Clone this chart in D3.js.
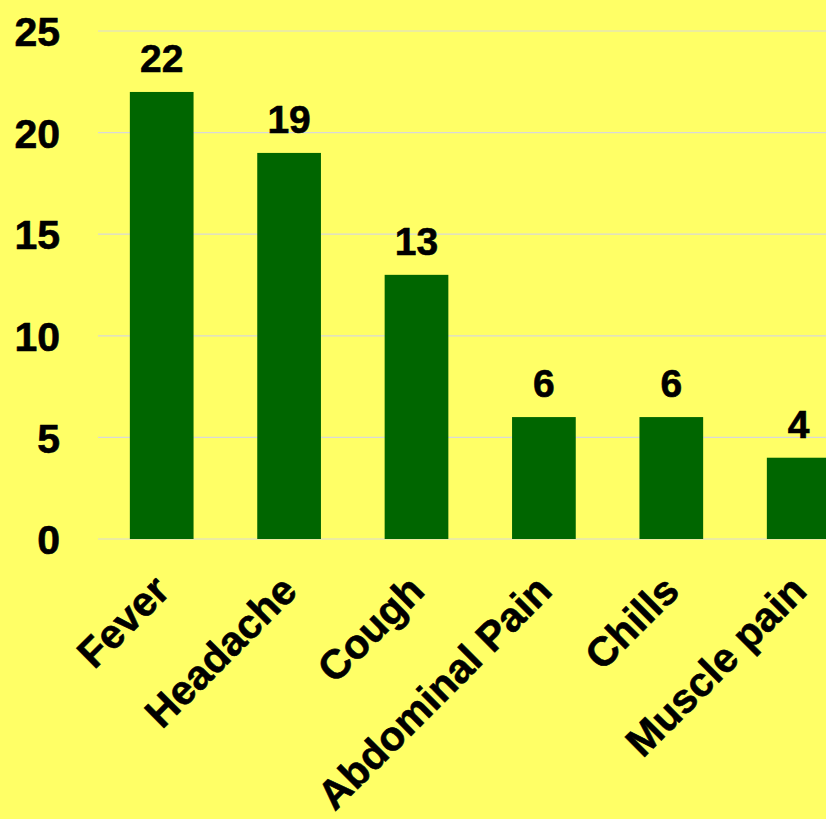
<!DOCTYPE html>
<html>
<head>
<meta charset="utf-8">
<script src="https://cdn.jsdelivr.net/npm/d3@7"></script>
<style>
  html, body { margin: 0; padding: 0; background: #FFFF66; }
  svg { display: block; }
  text { font-family: "Liberation Sans", Arial, sans-serif; font-weight: bold; fill: #000; }
</style>
</head>
<body>
<script>
const categories = ["Fever", "Headache", "Cough", "Abdominal Pain", "Chills", "Muscle pain"];
const values = [22, 19, 13, 6, 6, 4];
const yTicks = [0, 5, 10, 15, 20, 25];

const W = 826, H = 819;
const svg = d3.select("body").append("svg").attr("width", W).attr("height", H);
svg.append("rect").attr("width", W).attr("height", H).attr("fill", "#FFFF66");

const x = d3.scaleBand().domain(categories).range([98, 862.4]).paddingInner(0.5).paddingOuter(0.25);
const y = d3.scaleLinear().domain([0, 25]).range([539, 31]);

// gridlines
svg.append("g").selectAll("line").data(yTicks).join("line")
  .attr("x1", 98).attr("x2", W)
  .attr("y1", d => y(d)).attr("y2", d => y(d))
  .attr("stroke", "#d9d9d9").attr("stroke-width", 1.2);

// y axis labels
const yAxis = d3.axisLeft(y).tickValues(yTicks).tickSize(0).tickPadding(0);
const gy = svg.append("g").attr("transform", "translate(60,0)").call(yAxis);
gy.select(".domain").remove();
gy.selectAll("text").attr("font-size", 41).attr("font-family", "Liberation Sans, Arial, sans-serif")
  .attr("font-weight", "bold").attr("fill", "#000").attr("dy", "0.36em")
  .attr("stroke", "#000").attr("stroke-width", 0.6);

// bars
svg.append("g").selectAll("rect").data(categories).join("rect")
  .attr("x", d => x(d)).attr("width", x.bandwidth())
  .attr("y", (d, i) => y(values[i])).attr("height", (d, i) => y(0) - y(values[i]))
  .attr("fill", "#006600");

// value labels
svg.append("g").selectAll("text").data(categories).join("text")
  .attr("x", d => x(d) + x.bandwidth() / 2)
  .attr("y", (d, i) => y(values[i]) - 20)
  .attr("text-anchor", "middle")
  .attr("font-size", 39)
  .attr("stroke", "#000").attr("stroke-width", 0.6)
  .text((d, i) => values[i]);

// x axis labels
const xAxis = d3.axisBottom(x).tickSize(0).tickPadding(0);
const gx = svg.append("g").attr("transform", "translate(0,539)").call(xAxis);
gx.select(".domain").remove();
gx.selectAll("text")
  .attr("font-size", 41).attr("font-family", "Liberation Sans, Arial, sans-serif")
  .attr("font-weight", "bold").attr("fill", "#000")
  .attr("stroke", "#000").attr("stroke-width", 0.6)
  .attr("text-anchor", "end")
  .attr("dy", null).attr("y", null)
  .attr("transform", "translate(10,54) rotate(-45)");
</script>
</body>
</html>
